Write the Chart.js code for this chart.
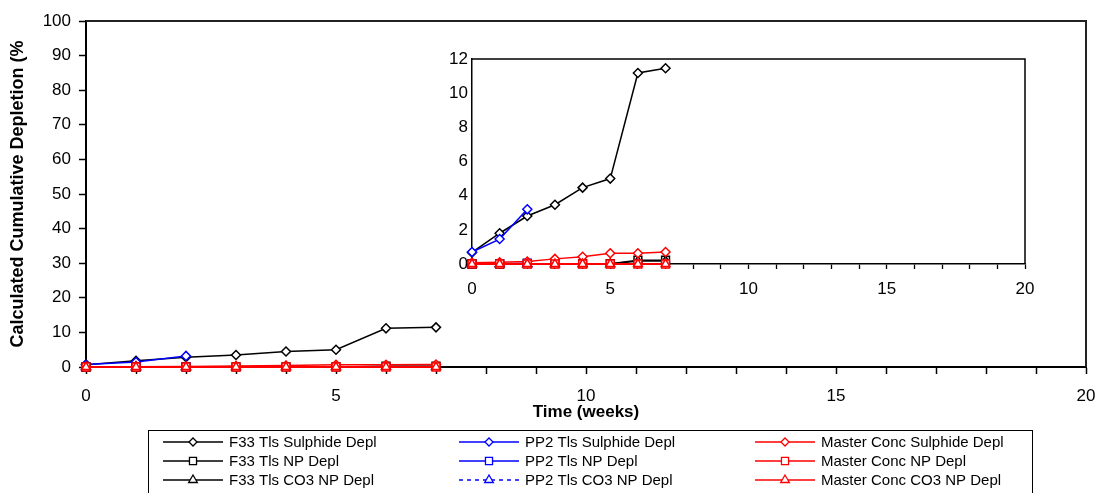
<!DOCTYPE html>
<html><head><meta charset="utf-8">
<script src="https://cdn.jsdelivr.net/npm/chart.js@4.4.1/dist/chart.umd.min.js"></script>
<style>
html,body{margin:0;padding:0;background:#fff;}
#wrap{position:relative;width:1095px;height:493px;overflow:hidden;}
#main{position:absolute;left:0;top:0;}
#inset{position:absolute;left:430px;top:40px;}
</style></head><body>
<div id="wrap"><canvas id="main" width="1095" height="493"></canvas><canvas id="inset" width="610" height="270"></canvas></div>
<script>
// ---- data ----
const weeks = [0, 1, 2, 3, 4, 5, 6, 7];
const weeksPP2 = [0, 1, 2];
const f33Sulphide = [0.68, 1.8, 2.81, 3.47, 4.47, 5.0, 11.18, 11.46];
const f33NP = [0, 0, 0.02, 0.02, 0.02, 0.02, 0.22, 0.22];
const f33CO3 = [0, 0, 0, 0, 0, 0, 0.18, 0.18];
const pp2Sulphide = [0.7, 1.46, 3.2];
const pp2NP = [0, 0.02, 0.05];
const pp2CO3 = [0, 0, 0];
const masterSulphide = [0.08, 0.1, 0.15, 0.3, 0.42, 0.63, 0.63, 0.7];
const masterNP = [0, 0, 0, 0, 0, 0, 0, 0];
const masterCO3 = [0, 0, 0, 0, 0, 0, 0, 0];
const seriesLabels = [
  'F33 Tls Sulphide Depl', 'PP2 Tls Sulphide Depl', 'Master Conc Sulphide Depl',
  'F33 Tls NP Depl', 'PP2 Tls NP Depl', 'Master Conc NP Depl',
  'F33 Tls CO3 NP Depl', 'PP2 Tls CO3 NP Depl', 'Master Conc CO3 NP Depl'
];
const xLabelTicks = [0, 5, 10, 15, 20];
const mainYTicks = [0, 10, 20, 30, 40, 50, 60, 70, 80, 90, 100];
const insetYTicks = [0, 2, 4, 6, 8, 10, 12];
const xTitle = 'Time (weeks)';
const yTitle = 'Calculated Cumulative Depletion (%';

// ---- styling ----
const FONT = "'Liberation Sans', Arial, sans-serif";
const BLACK = '#000000', BLUE = '#0000FF', RED = '#FF0000';
const series = [
  {label: seriesLabels[0], xs: weeks, ys: f33Sulphide, color: BLACK, style: 'rectRot', dash: [], order: 8},
  {label: seriesLabels[1], xs: weeksPP2, ys: pp2Sulphide, color: BLUE, style: 'rectRot', dash: [], order: 7},
  {label: seriesLabels[2], xs: weeks, ys: masterSulphide, color: RED, style: 'rectRot', dash: [], order: 2},
  {label: seriesLabels[3], xs: weeks, ys: f33NP, color: BLACK, style: 'rect', dash: [], order: 4},
  {label: seriesLabels[4], xs: weeksPP2, ys: pp2NP, color: BLUE, style: 'rect', dash: [], order: 6},
  {label: seriesLabels[5], xs: weeks, ys: masterNP, color: RED, style: 'rect', dash: [], order: 1},
  {label: seriesLabels[6], xs: weeks, ys: f33CO3, color: BLACK, style: 'triangle', dash: [], order: 3},
  {label: seriesLabels[7], xs: weeksPP2, ys: pp2CO3, color: BLUE, style: 'triangle', dash: [4, 4], order: 5},
  {label: seriesLabels[8], xs: weeks, ys: masterCO3, color: RED, style: 'triangle', dash: [], order: 0}
];
function radiusFor(style){ return style === 'rectRot' ? 4.5 : (style === 'rect' ? 5.5 : 5); }
function makeDatasets(lw){
  return series.map(s => ({
    label: s.label,
    data: s.xs.map((x, i) => ({x: x, y: s.ys[i]})),
    borderColor: s.color,
    backgroundColor: '#ffffff',
    borderWidth: (s.color === RED && s.style !== 'rectRot') ? lw + 0.7 : lw,
    borderDash: s.dash,
    pointStyle: s.style,
    pointRadius: radiusFor(s.style),
    pointBorderColor: s.color,
    pointBackgroundColor: '#ffffff',
    pointBorderWidth: 1.5,
    tension: 0,
    fill: false,
    clip: false,
    order: s.order
  }));
}

const frame = {
  id: 'frame',
  beforeDatasetsDraw(chart, args, opts){
    const a = chart.chartArea, ctx = chart.ctx;
    ctx.save();
    ctx.strokeStyle = opts.color || '#000';
    ctx.lineWidth = opts.width || 1.5;
    ctx.beginPath();
    ctx.moveTo(a.left, a.top); ctx.lineTo(a.right, a.top); ctx.lineTo(a.right, a.bottom);
    ctx.stroke();
    ctx.restore();
  }
};
const whiteArea = {
  id: 'whiteArea',
  beforeDraw(chart){
    const a = chart.chartArea, ctx = chart.ctx;
    ctx.save(); ctx.fillStyle = '#fff';
    ctx.fillRect(a.left, a.top, a.right - a.left, a.bottom - a.top);
    ctx.restore();
  }
};
const legendBox = {
  id: 'legendBox',
  afterDraw(chart){
    const ctx = chart.ctx;
    ctx.save();
    ctx.strokeStyle = '#000'; ctx.lineWidth = 1;
    ctx.strokeRect(148.5, 430.5, 884, 70);
    const colX = [163, 459, 755];
    const rowY = [442, 461, 480];
    ctx.font = '15px ' + FONT;
    ctx.textBaseline = 'middle';
    ctx.textAlign = 'left';
    series.forEach((s, i) => {
      const c = i % 3, r = Math.floor(i / 3);
      const x0 = colX[c], y = rowY[r];
      ctx.strokeStyle = s.color; ctx.lineWidth = 1.3;
      ctx.setLineDash(s.dash);
      ctx.beginPath(); ctx.moveTo(x0, y); ctx.lineTo(x0 + 60, y); ctx.stroke();
      ctx.setLineDash([]);
      ctx.fillStyle = '#fff';
      Chart.helpers.drawPoint(ctx, {pointStyle: s.style, radius: s.style === 'rectRot' ? 4 : 5, rotation: 0, borderWidth: 1.2}, x0 + 30, y);
      ctx.fillStyle = '#000';
      ctx.fillText(s.label, x0 + 66, y + 1);
    });
    ctx.restore();
  }
};

// ---- main chart ----
new Chart(document.getElementById('main'), {
  type: 'line',
  data: {datasets: makeDatasets(1.5)},
  plugins: [frame, legendBox],
  options: {
    responsive: false, animation: false, devicePixelRatio: 1,
    layout: {padding: {left: 0, right: 9, top: 21, bottom: 0}},
    plugins: {legend: {display: false}, tooltip: {enabled: false}, frame: {color: '#222', width: 2}},
    scales: {
      x: {
        type: 'linear', min: 0, max: 20,
        afterBuildTicks(s){ s.ticks = Array.from({length: 21}, (_, i) => ({value: i})); },
        ticks: {autoSkip: false, maxRotation: 0, color: '#000', font: {family: FONT, size: 17}, padding: 12,
          callback: v => xLabelTicks.includes(v) ? String(v) : ''},
        grid: {display: true, drawOnChartArea: false, drawTicks: true, tickLength: 7, tickColor: '#000', tickWidth: 1.5},
        border: {display: true, color: '#000', width: 2},
        title: {display: true, text: xTitle, color: '#000', font: {family: FONT, size: 17, weight: 'bold'}, padding: {top: 0, bottom: 70}},
        afterFit(s){ s.height = 126; s.paddingLeft = 0; s.paddingRight = 0; }
      },
      y: {
        type: 'linear', min: 0, max: 100,
        afterBuildTicks(s){ s.ticks = mainYTicks.map(v => ({value: v})); },
        ticks: {color: '#000', font: {family: FONT, size: 17}, padding: 8},
        grid: {display: true, drawOnChartArea: false, drawTicks: true, tickLength: 7, tickColor: '#000', tickWidth: 1.5},
        border: {display: true, color: '#000', width: 2},
        title: {display: true, text: yTitle, color: '#000', font: {family: FONT, size: 18, weight: 'bold'}, padding: {top: 7, bottom: 0}},
        afterFit(s){ s.width = 86; s.paddingTop = 0; s.paddingBottom = 0; }
      }
    }
  }
});

// ---- inset chart ----
new Chart(document.getElementById('inset'), {
  type: 'line',
  data: {datasets: makeDatasets(1.5)},
  plugins: [whiteArea, frame],
  options: {
    responsive: false, animation: false, devicePixelRatio: 1,
    layout: {padding: {left: 0, right: 15, top: 19, bottom: 0}},
    plugins: {legend: {display: false}, tooltip: {enabled: false}, frame: {color: '#000', width: 1.5}},
    scales: {
      x: {
        type: 'linear', min: 0, max: 20,
        afterBuildTicks(s){ s.ticks = Array.from({length: 21}, (_, i) => ({value: i})); },
        ticks: {autoSkip: false, maxRotation: 0, color: '#000', font: {family: FONT, size: 17}, padding: 10,
          callback: v => xLabelTicks.includes(v) ? String(v) : ''},
        grid: {display: true, drawOnChartArea: false, drawTicks: true, tickLength: 5, tickColor: '#000', tickWidth: 1.3},
        border: {display: true, color: '#000', width: 1.5},
        afterFit(s){ s.height = 46; s.paddingLeft = 0; s.paddingRight = 0; }
      },
      y: {
        type: 'linear', min: 0, max: 12,
        afterBuildTicks(s){ s.ticks = insetYTicks.map(v => ({value: v})); },
        ticks: {color: '#000', font: {family: FONT, size: 17}, padding: 4},
        grid: {display: true, drawOnChartArea: false, drawTicks: false},
        border: {display: true, color: '#000', width: 1.5},
        afterFit(s){ s.width = 42; s.paddingTop = 0; s.paddingBottom = 0; }
      }
    }
  }
});
</script>
</body></html>
